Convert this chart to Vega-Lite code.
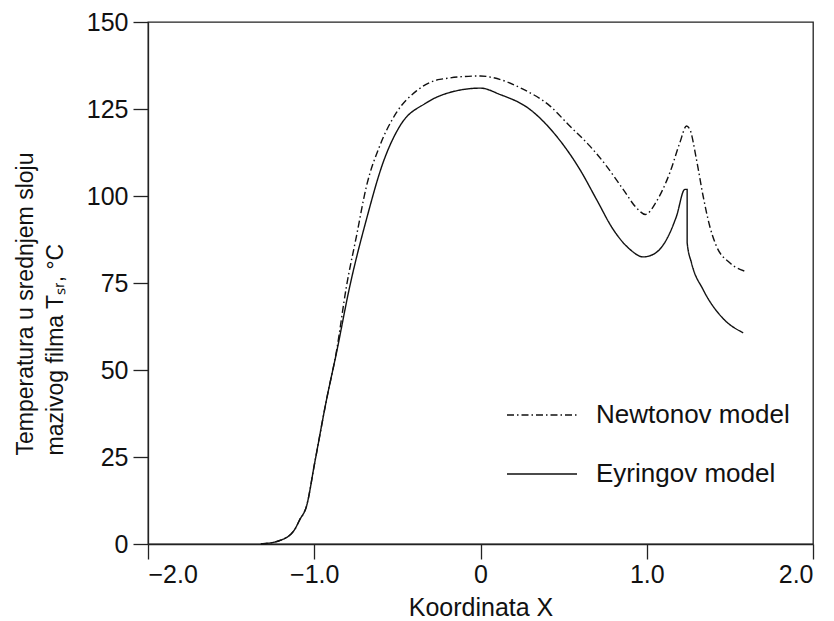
{
  "$schema": "https://vega.github.io/schema/vega-lite/v6.json",
  "width": 665,
  "height": 522,
  "autosize": "none",
  "padding": {"left": 148, "top": 22, "right": 21, "bottom": 77},
  "background": "white",
  "config": {
    "font": "Liberation Sans",
    "view": {"stroke": "#222", "strokeWidth": 1.3},
    "axis": {
      "grid": false,
      "domainColor": "#222",
      "tickColor": "#222",
      "labelColor": "#111",
      "titleColor": "#111",
      "labelFont": "Liberation Sans",
      "titleFont": "Liberation Sans",
      "labelFontSize": 25,
      "titleFontSize": 26,
      "titleFontWeight": "normal",
      "tickSize": 15,
      "domainWidth": 1.3,
      "tickWidth": 1.3
    }
  },
  "datasets": {
    "curves": [
      {"model": "Eyringov model", "i": 1, "x": -1.321, "y": 0},
      {"model": "Eyringov model", "i": 2, "x": -1.207, "y": 1.0},
      {"model": "Eyringov model", "i": 3, "x": -1.12, "y": 4.0},
      {"model": "Eyringov model", "i": 4, "x": -1.087, "y": 7.0},
      {"model": "Eyringov model", "i": 5, "x": -1.047, "y": 10.8},
      {"model": "Eyringov model", "i": 6, "x": -0.997, "y": 23.4},
      {"model": "Eyringov model", "i": 7, "x": -0.926, "y": 41.5},
      {"model": "Eyringov model", "i": 8, "x": -0.866, "y": 55.0},
      {"model": "Eyringov model", "i": 9, "x": -0.786, "y": 74.1},
      {"model": "Eyringov model", "i": 10, "x": -0.686, "y": 93.3},
      {"model": "Eyringov model", "i": 11, "x": -0.586, "y": 109.6},
      {"model": "Eyringov model", "i": 12, "x": -0.485, "y": 120.1},
      {"model": "Eyringov model", "i": 13, "x": -0.325, "y": 126.8},
      {"model": "Eyringov model", "i": 14, "x": -0.165, "y": 130.0},
      {"model": "Eyringov model", "i": 15, "x": 0.0, "y": 131.0},
      {"model": "Eyringov model", "i": 16, "x": 0.116, "y": 129.2},
      {"model": "Eyringov model", "i": 17, "x": 0.297, "y": 124.9},
      {"model": "Eyringov model", "i": 18, "x": 0.457, "y": 117.2},
      {"model": "Eyringov model", "i": 19, "x": 0.598, "y": 107.6},
      {"model": "Eyringov model", "i": 20, "x": 0.698, "y": 99.0},
      {"model": "Eyringov model", "i": 21, "x": 0.798, "y": 90.4},
      {"model": "Eyringov model", "i": 22, "x": 0.898, "y": 84.7},
      {"model": "Eyringov model", "i": 23, "x": 0.978, "y": 82.5},
      {"model": "Eyringov model", "i": 24, "x": 1.038, "y": 83.2},
      {"model": "Eyringov model", "i": 25, "x": 1.119, "y": 87.5},
      {"model": "Eyringov model", "i": 26, "x": 1.179, "y": 94.2},
      {"model": "Eyringov model", "i": 27, "x": 1.229, "y": 101.9},
      {"model": "Eyringov model", "i": 28, "x": 1.243, "y": 101.9},
      {"model": "Eyringov model", "i": 29, "x": 1.243, "y": 86.6},
      {"model": "Eyringov model", "i": 30, "x": 1.269, "y": 80.8},
      {"model": "Eyringov model", "i": 31, "x": 1.339, "y": 73.1},
      {"model": "Eyringov model", "i": 32, "x": 1.459, "y": 64.8},
      {"model": "Eyringov model", "i": 33, "x": 1.58, "y": 60.7},
      {"model": "Newtonov model", "i": 1, "x": -1.321, "y": 0},
      {"model": "Newtonov model", "i": 2, "x": -1.207, "y": 1.0},
      {"model": "Newtonov model", "i": 3, "x": -1.12, "y": 4.0},
      {"model": "Newtonov model", "i": 4, "x": -1.087, "y": 7.0},
      {"model": "Newtonov model", "i": 5, "x": -1.047, "y": 10.8},
      {"model": "Newtonov model", "i": 6, "x": -0.997, "y": 23.4},
      {"model": "Newtonov model", "i": 7, "x": -0.926, "y": 41.5},
      {"model": "Newtonov model", "i": 8, "x": -0.866, "y": 55.5},
      {"model": "Newtonov model", "i": 9, "x": -0.806, "y": 74.1},
      {"model": "Newtonov model", "i": 10, "x": -0.746, "y": 88.5},
      {"model": "Newtonov model", "i": 11, "x": -0.686, "y": 102.8},
      {"model": "Newtonov model", "i": 12, "x": -0.606, "y": 114.4},
      {"model": "Newtonov model", "i": 13, "x": -0.505, "y": 124.0},
      {"model": "Newtonov model", "i": 14, "x": -0.385, "y": 130.2},
      {"model": "Newtonov model", "i": 15, "x": -0.245, "y": 133.5},
      {"model": "Newtonov model", "i": 16, "x": 0.0, "y": 134.5},
      {"model": "Newtonov model", "i": 17, "x": 0.076, "y": 134.0},
      {"model": "Newtonov model", "i": 18, "x": 0.256, "y": 130.7},
      {"model": "Newtonov model", "i": 19, "x": 0.417, "y": 125.9},
      {"model": "Newtonov model", "i": 20, "x": 0.537, "y": 120.1},
      {"model": "Newtonov model", "i": 21, "x": 0.657, "y": 114.4},
      {"model": "Newtonov model", "i": 22, "x": 0.758, "y": 108.6},
      {"model": "Newtonov model", "i": 23, "x": 0.858, "y": 101.9},
      {"model": "Newtonov model", "i": 24, "x": 0.938, "y": 96.6},
      {"model": "Newtonov model", "i": 25, "x": 0.992, "y": 94.7},
      {"model": "Newtonov model", "i": 26, "x": 1.059, "y": 98.5},
      {"model": "Newtonov model", "i": 27, "x": 1.139, "y": 106.7},
      {"model": "Newtonov model", "i": 28, "x": 1.199, "y": 115.3},
      {"model": "Newtonov model", "i": 29, "x": 1.239, "y": 120.1},
      {"model": "Newtonov model", "i": 30, "x": 1.259, "y": 119.2},
      {"model": "Newtonov model", "i": 31, "x": 1.299, "y": 110.5},
      {"model": "Newtonov model", "i": 32, "x": 1.339, "y": 100.0},
      {"model": "Newtonov model", "i": 33, "x": 1.379, "y": 91.3},
      {"model": "Newtonov model", "i": 34, "x": 1.419, "y": 85.6},
      {"model": "Newtonov model", "i": 35, "x": 1.499, "y": 80.8},
      {"model": "Newtonov model", "i": 36, "x": 1.59, "y": 78.4}
    ]
  },
  "layer": [
    {
      "mark": {"type": "rule", "color": "#222", "strokeWidth": 1.3},
      "encoding": {"x": {"datum": 0, "type": "quantitative"}}
    },
    {
      "data": {"name": "curves"},
      "mark": {"type": "line", "color": "#111", "strokeWidth": 1.4, "interpolate": "monotone"},
      "encoding": {
        "x": {
          "field": "x",
          "type": "quantitative",
          "scale": {"domain": [-2, 2], "nice": false, "zero": false},
          "axis": {
            "values": [-2, -1, 0, 1, 2],
            "labelExpr": "datum.value == 0 ? '0' : format(datum.value, '.1f')",
            "title": "Koordinata X",
            "titleFontSize": 25,
            "titleBaseline": "alphabetic",
            "titleY": 71,
            "labelPadding": 3
          }
        },
        "y": {
          "field": "y",
          "type": "quantitative",
          "scale": {"domain": [0, 150], "nice": false},
          "axis": {
            "values": [0, 25, 50, 75, 100, 125, 150],
            "title": ["Temperatura u srednjem sloju", "mazivog filma Tₛᵣ, °C"],
            "titleFontSize": 23,
            "titleAlign": "left",
            "titleBaseline": "bottom",
            "titleX": -111,
            "titleY": 433,
            "titleLineHeight": 30,
            "labelPadding": 5
          }
        },
        "order": {"field": "i", "type": "quantitative"},
        "strokeDash": {
          "field": "model",
          "type": "nominal",
          "scale": {
            "domain": ["Newtonov model", "Eyringov model"],
            "range": [[7, 3, 1.5, 3], [1, 0]]
          },
          "legend": {
            "title": null,
            "orient": "none",
            "legendX": 358,
            "legendY": 357,
            "symbolType": "stroke",
            "symbolSize": 4900,
            "symbolStrokeColor": "#111",
            "symbolStrokeWidth": 1.4,
            "labelFontSize": 26,
            "labelLimit": 400,
            "labelColor": "#111",
            "labelOffset": 18,
            "rowPadding": 10
          }
        }
      }
    }
  ]
}
